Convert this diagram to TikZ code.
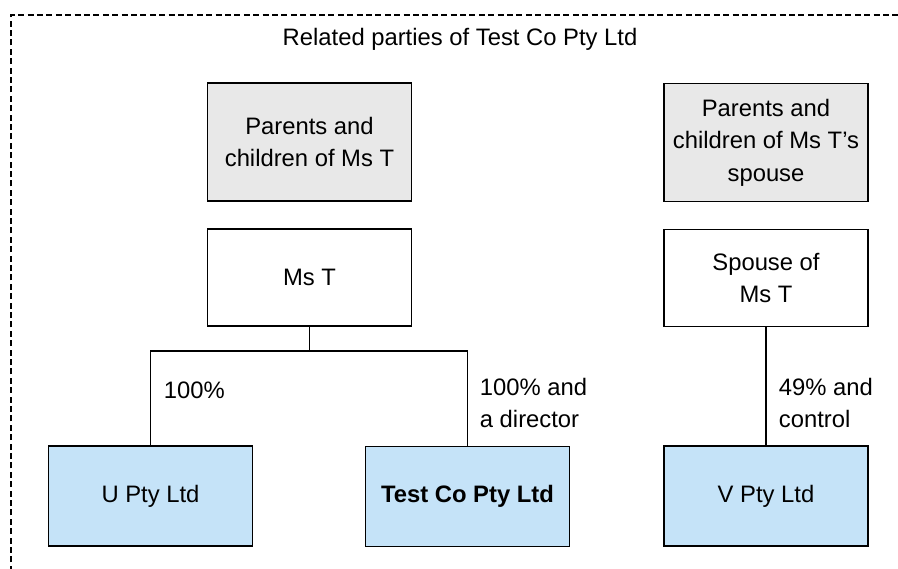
\documentclass[tikz,border=0pt]{standalone}
\usepackage{fontspec}
\setmainfont{Liberation Sans}
\usepackage{tikz}

\definecolor{relgrey}{RGB}{232,232,232}
\definecolor{coblue}{RGB}{197,227,248}

\begin{document}
\begin{tikzpicture}[x=0.5pt,y=-0.5pt,line width=0.9pt,
  font=\fontsize{11.9}{16.2}\selectfont,
  party/.style={draw,minimum width=102pt,align=center,inner sep=2pt},
  relative/.style={party,fill=relgrey,minimum height=59pt},
  person/.style={party,fill=white,minimum height=48.5pt},
  company/.style={party,fill=coblue,minimum height=50pt},
  share/.style={anchor=west,align=left,inner sep=0pt}]
\useasboundingbox (0,0) rectangle (898,568);
\clip (0,0) rectangle (898,568);
\draw[dash pattern=on 3pt off 1.7pt] (11,600) -- (11,15) -- (920,15);
\node (title) at (460,39) {Related parties of Test Co Pty Ltd};

\node[relative] (parT) at (309.5,142) {Parents and\\children of Ms T};
\node[relative] (parS) at (766,142.5) {Parents and\\children of Ms T’s\\spouse};
\node[person] (msT) at (309.5,277.5) {Ms T};
\node[person] (spouse) at (766,278) {Spouse of\\Ms T};
\node[company] (upty) at (150.5,496) {U Pty Ltd};
\node[company] (testco) at (467.5,496.5) {\textbf{Test Co Pty Ltd}};
\node[company] (vpty) at (766,496) {V Pty Ltd};

\coordinate (split) at (309.5,351);
\draw (msT) -- (split);
\draw (split) -| (upty);
\draw (split) -| (testco);
\draw (spouse) -- (vpty);

\node[share] (shU) at (163,390) {100\%};
\node[share] (shT) at (479,403) {100\% and\\a director};
\node[share] (shV) at (778,403) {49\% and\\control};
\end{tikzpicture}
\end{document}
